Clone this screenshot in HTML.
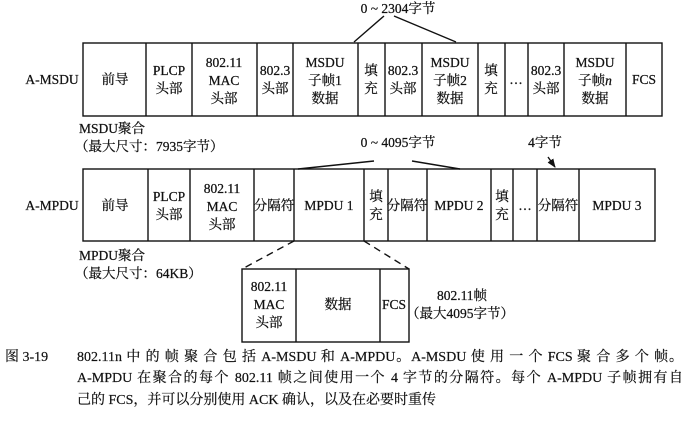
<!DOCTYPE html>
<html><head><meta charset="utf-8"><style>
html,body{margin:0;padding:0;background:#fff;}
body{width:686px;height:424px;position:relative;overflow:hidden;font-family:"Liberation Serif","Noto Serif CJK SC","Noto Sans CJK SC",serif;color:#111;}
svg{position:absolute;left:0;top:0;}
svg text{font-family:"Liberation Serif","Noto Serif CJK SC","Noto Sans CJK SC",serif;font-size:13.5px;fill:#111;stroke:#111;stroke-width:0.25px;}
.cap{position:absolute;left:77px;width:606px;font-size:14px;line-height:21px;text-align:justify;text-align-last:justify;white-space:nowrap;-webkit-text-stroke:0.2px #111;}
</style></head><body>
<svg width="686" height="424" viewBox="0 0 686 424">
<defs><marker id="ar" markerWidth="9" markerHeight="9" refX="8" refY="4.5" orient="auto" markerUnits="userSpaceOnUse"><path d="M0,1 L9,4.5 L0,8 Z" fill="#111"/></marker></defs>
<g stroke="#111" stroke-width="1.4" fill="none">
<rect x="83" y="43" width="579" height="73"/>
<path d="M146 43V116M192 43V116M257 43V116M293 43V116M358 43V116M385 43V116M422 43V116M478 43V116M505 43V116M528 43V116M564 43V116M626 43V116"/>
<rect x="83" y="169" width="572" height="72"/>
<path d="M148 169V241M190 169V241M254 169V241M294 169V241M364 169V241M388 169V241M427 169V241M491 169V241M513 169V241M537 169V241M579 169V241"/>
<rect x="242" y="269" width="167" height="73"/>
<path d="M296 269V342M380 269V342"/>
<path d="M294 241L242 269M364 241L409 269" stroke-dasharray="7,5"/>
<path d="M384 16L354 42M394 16L456 42M374 161L298 169M412 161L460 169M548 157L555 167" marker-end="url(#ar)"/>
</g>
<g text-anchor="middle">
<text x="52" y="84">A-MSDU</text>
<text x="115" y="84">前导</text>
<text x="169" y="75">PLCP</text><text x="169" y="93">头部</text>
<text x="224" y="67">802.11</text><text x="224" y="85">MAC</text><text x="224" y="103">头部</text>
<text x="275" y="75">802.3</text><text x="275" y="93">头部</text>
<text x="325" y="67">MSDU</text><text x="325" y="85">子帧1</text><text x="325" y="103">数据</text>
<text x="371" y="75">填</text><text x="371" y="93">充</text>
<text x="403" y="75">802.3</text><text x="403" y="93">头部</text>
<text x="450" y="67">MSDU</text><text x="450" y="85">子帧2</text><text x="450" y="103">数据</text>
<text x="491" y="75">填</text><text x="491" y="93">充</text>
<text x="516" y="84">…</text>
<text x="546" y="75">802.3</text><text x="546" y="93">头部</text>
<text x="595" y="67">MSDU</text><text x="595" y="85">子帧<tspan font-style="italic">n</tspan></text><text x="595" y="103">数据</text>
<text x="644" y="84">FCS</text>
<text x="398" y="13">0 ~ 2304字节</text>
<text x="398" y="147">0 ~ 4095字节</text>
<text x="545" y="147">4字节</text>
<text x="52" y="210">A-MPDU</text>
<text x="115" y="210">前导</text>
<text x="169" y="201">PLCP</text><text x="169" y="219">头部</text>
<text x="222" y="193">802.11</text><text x="222" y="211">MAC</text><text x="222" y="229">头部</text>
<text x="274" y="210">分隔符</text>
<text x="329" y="210">MPDU 1</text>
<text x="376" y="201">填</text><text x="376" y="219">充</text>
<text x="407" y="210">分隔符</text>
<text x="459" y="210">MPDU 2</text>
<text x="502" y="201">填</text><text x="502" y="219">充</text>
<text x="525" y="210">…</text>
<text x="558" y="210">分隔符</text>
<text x="617" y="210">MPDU 3</text>
<text x="269" y="291">802.11</text><text x="269" y="309">MAC</text><text x="269" y="327">头部</text>
<text x="338" y="309">数据</text>
<text x="394" y="309">FCS</text>
<text x="462" y="300">802.11帧</text>
<text x="460" y="318">（最大4095字节）</text>
</g>
<text x="79" y="133">MSDU聚合</text>
<text x="75" y="151">（最大尺寸：7935字节）</text>
<text x="79" y="260">MPDU聚合</text>
<text x="75" y="278">（最大尺寸：64KB）</text>
</svg>
<div style="position:absolute;left:5px;top:347px;font-size:14px;line-height:21px;-webkit-text-stroke:0.2px #111;">图 3-19</div>
<div class="cap" style="top:347px;">802.11n 中 的 帧 聚 合 包 括 A-MSDU 和 A-MPDU。A-MSDU 使 用 一 个 FCS 聚 合 多 个 帧。</div>
<div class="cap" style="top:368px;">A-MPDU 在聚合的每个 802.11 帧之间使用一个 4 字节的分隔符。每个 A-MPDU 子帧拥有自</div>
<div class="cap" style="top:390px;text-align-last:left;">己的 FCS，并可以分别使用 ACK 确认，以及在必要时重传</div>
</body></html>
